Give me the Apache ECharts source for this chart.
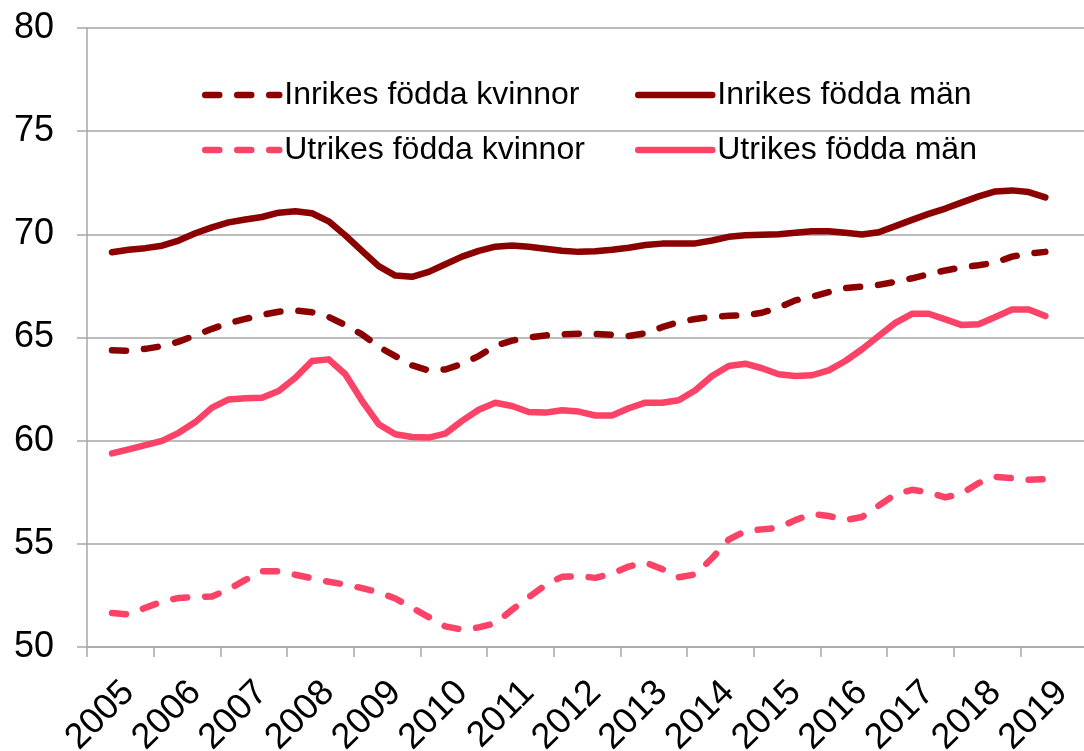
<!DOCTYPE html>
<html>
<head>
<meta charset="utf-8">
<script src="https://cdn.jsdelivr.net/npm/echarts@6/dist/echarts.min.js"></script>
<style>
html, body { margin: 0; padding: 0; background: #fff; }
#main { width: 1084px; height: 751px; }
</style>
</head>
<body>
<div id="main"></div>
<script>
// årtal och kvartal (kategoriaxel)
var years = ['2005','2006','2007','2008','2009','2010','2011','2012','2013','2014','2015','2016','2017','2018','2019'];
var quarters = [];
for (var i = 0; i < years.length; i++) {
    for (var q = 1; q <= 4; q++) {
        quarters.push(years[i] + 'K' + q);
    }
}
var yTicks = [50, 55, 60, 65, 70, 75, 80];

// värden per kvartal, 2005K2 - 2019K2
var inrikesKvinnor = [null,
    64.38, 64.36, 64.45, 64.58, 64.8, 65.1, 65.42, 65.7, 65.9, 66.1, 66.25, 66.31, 66.22, 66.0, 65.6, 65.15,
    64.55, 64.1, 63.65, 63.4, 63.45, 63.72, 64.1, 64.6, 64.85, 65.0, 65.1, 65.15, 65.18, 65.17, 65.13, 65.07,
    65.2, 65.5, 65.75, 65.9, 66.0, 66.05, 66.08, 66.2, 66.45, 66.8, 66.98, 67.2, 67.4, 67.47, 67.55, 67.7,
    67.87, 68.07, 68.25, 68.4, 68.5, 68.63, 68.92, 69.07, 69.15,
    null, null];
var inrikesMan = [null,
    69.13, 69.25, 69.33, 69.45, 69.7, 70.05, 70.34, 70.58, 70.72, 70.84, 71.05, 71.12, 71.02, 70.63, 69.95, 69.2,
    68.46, 68.0, 67.94, 68.18, 68.55, 68.92, 69.2, 69.4, 69.46, 69.4, 69.3, 69.2, 69.15, 69.18, 69.25, 69.35,
    69.48, 69.55, 69.56, 69.56, 69.7, 69.88, 69.96, 69.98, 70.0, 70.08, 70.15, 70.15, 70.08, 69.99, 70.1, 70.4,
    70.7, 70.99, 71.25, 71.55, 71.84, 72.08, 72.13, 72.05, 71.79,
    null, null];
var utrikesKvinnor = [null,
    51.65, 51.58, 51.9, 52.2, 52.38, 52.42, 52.45, 52.8, 53.25, 53.67, 53.67, 53.5, 53.33, 53.16, 53.03, 52.85,
    52.65, 52.35, 51.9, 51.45, 51.0, 50.84, 50.95, 51.15, 51.8, 52.41, 53.0, 53.4, 53.44, 53.35, 53.55, 53.9,
    54.1, 53.78, 53.38, 53.52, 54.3, 55.2, 55.62, 55.7, 55.78, 56.15, 56.45, 56.35, 56.15, 56.3, 56.85, 57.4,
    57.62, 57.5, 57.25, 57.45, 57.95, 58.25, 58.18, 58.1, 58.14,
    null, null];
var utrikesMan = [null,
    59.38, 59.58, 59.78, 59.99, 60.38, 60.9, 61.6, 62.0, 62.05, 62.08, 62.41, 63.05, 63.86, 63.94, 63.22, 61.93,
    60.8, 60.31, 60.18, 60.15, 60.34, 60.96, 61.5, 61.84, 61.68, 61.39, 61.36, 61.47, 61.41, 61.22, 61.22, 61.57,
    61.84, 61.84, 61.96, 62.44, 63.13, 63.62, 63.73, 63.51, 63.22, 63.13, 63.17, 63.41, 63.86, 64.43, 65.07, 65.71,
    66.15, 66.15, 65.88, 65.6, 65.64, 65.99, 66.36, 66.36, 66.04,
    null, null];

var mork = '#8B0000';
var rosa = '#FA4366';
var font = '"Liberation Sans", Arial, sans-serif';

function legendItem(name, x, y) {
    return {
        data: [name],
        left: x,
        top: y,
        padding: 0,
        itemWidth: 74,
        itemHeight: 10,
        selectedMode: false,
        lineStyle: { width: 6.5, cap: 'round' },
        itemStyle: { opacity: 0 },
        textStyle: { fontFamily: font, fontSize: 32, lineHeight: 32, color: '#000' }
    };
}

function lineSeries(name, data, color, dashed) {
    return {
        name: name,
        type: 'line',
        data: data,
        symbol: 'none',
        silent: true,
        lineStyle: {
            color: color,
            width: 6.5,
            type: dashed ? [14, 18] : 'solid',
            cap: 'round',
            join: 'round'
        },
        itemStyle: { color: color }
    };
}

var myChart = echarts.init(document.getElementById('main'));
myChart.setOption({
    animation: false,
    backgroundColor: '#fff',
    grid: {
        left: 87,
        right: -3,
        top: 28,
        bottom: 104,
        containLabel: false,
        outerBoundsMode: 'none'
    },
    legend: [
        legendItem('Inrikes födda kvinnor', 202, 79),
        legendItem('Inrikes födda män', 635, 79),
        legendItem('Utrikes födda kvinnor', 202, 134),
        legendItem('Utrikes födda män', 635, 134)
    ],
    xAxis: {
        type: 'category',
        data: quarters,
        boundaryGap: true,
        axisLine: { lineStyle: { color: '#A6A6A6', width: 1.5 } },
        axisTick: { show: true, interval: 3, length: 10, lineStyle: { color: '#A6A6A6', width: 1.5 } },
        axisLabel: {
            interval: function (index) { return index % 4 === 2; },
            formatter: function (v) { return v.substring(0, 4); },
            rotate: 45,
            margin: 40,
            hideOverlap: false,
            color: '#000',
            fontFamily: font,
            fontSize: 36
        },
        splitLine: { show: false }
    },
    yAxis: {
        type: 'value',
        min: yTicks[0],
        max: yTicks[yTicks.length - 1],
        interval: 5,
        axisLine: { show: true, lineStyle: { color: '#A6A6A6', width: 1.5 } },
        axisTick: { show: true, inside: false, length: 10, lineStyle: { color: '#A6A6A6', width: 1.5 } },
        axisLabel: {
            margin: 33,
            color: '#000',
            fontFamily: font,
            fontSize: 36
        },
        splitLine: { lineStyle: { color: '#A6A6A6', width: 1.5 } }
    },
    series: [
        lineSeries('Inrikes födda kvinnor', inrikesKvinnor, mork, true),
        lineSeries('Inrikes födda män', inrikesMan, mork, false),
        lineSeries('Utrikes födda kvinnor', utrikesKvinnor, rosa, true),
        lineSeries('Utrikes födda män', utrikesMan, rosa, false)
    ]
});
</script>
</body>
</html>
